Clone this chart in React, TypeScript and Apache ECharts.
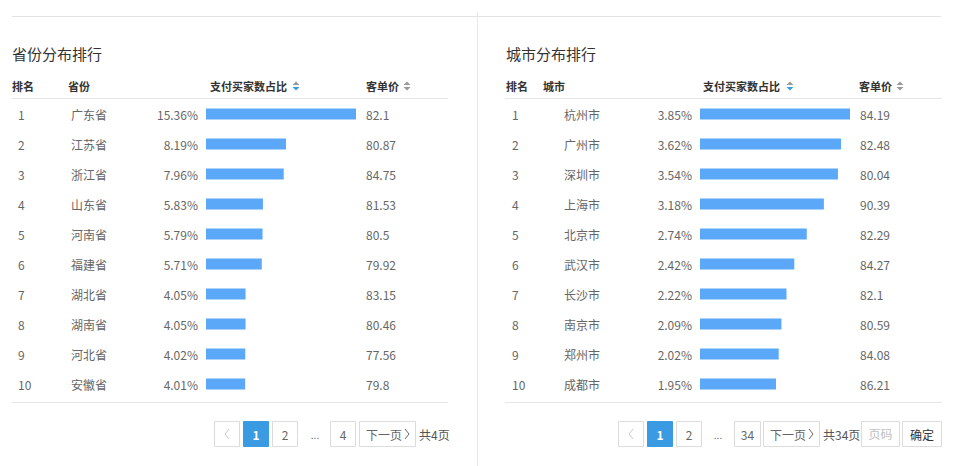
import React, { useEffect, useRef } from "react";
import * as echarts from "echarts";

const ranks = ["1", "2", "3", "4", "5", "6", "7", "8", "9", "10"];
const provinces = ["广东省", "江苏省", "浙江省", "山东省", "河南省", "福建省", "湖北省", "湖南省", "河北省", "安徽省"];
const provShare = [15.36, 8.19, 7.96, 5.83, 5.79, 5.71, 4.05, 4.05, 4.02, 4.01];
const provPrice = ["82.1", "80.87", "84.75", "81.53", "80.5", "79.92", "83.15", "80.46", "77.56", "79.8"];
const cities = ["杭州市", "广州市", "深圳市", "上海市", "北京市", "武汉市", "长沙市", "南京市", "郑州市", "成都市"];
const cityShare = [3.85, 3.62, 3.54, 3.18, 2.74, 2.42, 2.22, 2.09, 2.02, 1.95];
const cityPrice = ["84.19", "82.48", "80.04", "90.39", "82.29", "84.27", "82.1", "80.59", "84.08", "86.21"];

const FONT = '"Noto Sans CJK SC", "Noto Sans", sans-serif';
const BAR = "#5aa8f7";
const BLUE = "#3a9be2";
const LINE = "#e6e6e6";

function txt(x: number, y: number, text: string, opts: any = {}) {
  return {
    type: "text",
    x,
    y,
    silent: true,
    style: {
      text,
      fill: opts.fill || "#666",
      fontSize: opts.fontSize || 12,
      fontWeight: opts.fontWeight || "normal",
      fontFamily: FONT,
      textAlign: opts.align || "left",
      textVerticalAlign: "middle",
    },
  };
}
function head(x: number, text: string) {
  return txt(x, 86, text, { fontWeight: "bold", fill: "#333", fontSize: 11 });
}
function hline(x1: number, x2: number, y: number, color = LINE) {
  return { type: "line", silent: true, shape: { x1, y1: y, x2, y2: y }, style: { stroke: color, lineWidth: 1 } };
}
function box(x1: number, x2: number, fill = "#fff", stroke = "#dcdcdc") {
  return {
    type: "rect",
    silent: true,
    shape: { x: x1 + 0.5, y: 421.5, width: x2 - x1 - 1, height: 25 },
    style: { fill, stroke, lineWidth: 1 },
  };
}
function sortIcon(x: number, y: number, activeDown: boolean) {
  return [
    { type: "polygon", silent: true, shape: { points: [[x - 3.5, y - 1], [x + 3.5, y - 1], [x, y - 4.5]] }, style: { fill: "#999" } },
    { type: "polygon", silent: true, shape: { points: [[x - 3.5, y + 1], [x + 3.5, y + 1], [x, y + 4.5]] }, style: { fill: activeDown ? BLUE : "#999" } },
  ];
}
function chevron(x: number, y: number, dir: number, color: string) {
  return {
    type: "polyline",
    silent: true,
    shape: { points: [[x, y - 5], [x + 4 * dir, y], [x, y + 5]] },
    style: { stroke: color, lineWidth: 1, fill: null },
  };
}

function yAxes(grid: number, names: string[], share: number[], price: string[], rankMargin: number, nameMargin: number) {
  const base = {
    gridIndex: grid,
    type: "category",
    inverse: true,
    data: ranks,
    axisLine: { show: false },
    axisTick: { show: false },
    splitLine: { show: false },
  };
  const lab = { fontSize: 12, color: "#666", fontFamily: FONT };
  return [
    { ...base, position: "left", axisLabel: { ...lab, margin: rankMargin, align: "left" } },
    { ...base, position: "left", axisLabel: { ...lab, margin: nameMargin, align: "left", formatter: (_v: string, i: number) => names[i] } },
    { ...base, position: "left", axisLabel: { ...lab, margin: 8, align: "right", formatter: (_v: string, i: number) => share[i].toFixed(2) + "%" } },
    { ...base, position: "right", axisLabel: { ...lab, margin: 10, align: "left", formatter: (_v: string, i: number) => price[i] } },
  ];
}

export default function App() {
  const ref = useRef<HTMLDivElement>(null);
  useEffect(() => {
    document.body.style.margin = "0";
    const chart = echarts.init(ref.current!, null, { renderer: "svg" });
    const graphic: any[] = [
      hline(12, 941, 16.5, "#e3e3e3"),
      { type: "line", silent: true, shape: { x1: 477.5, y1: 12, x2: 477.5, y2: 466 }, style: { stroke: "#e8e8e8", lineWidth: 1 } },
      // left panel
      txt(12, 53, "省份分布排行", { fontSize: 15, fill: "#333" }),
      head(12, "排名"),
      head(68, "省份"),
      head(210, "支付买家数占比"),
      ...sortIcon(296, 86, true),
      head(366, "客单价"),
      ...sortIcon(407, 86, false),
      hline(12, 448, 98.5),
      hline(12, 448, 402.5),
      box(214, 240),
      chevron(229, 434, -1, "#c8c8c8"),
      box(243, 269, BLUE, BLUE),
      txt(256, 434, "1", { fill: "#fff", fontWeight: "bold", align: "center" }),
      box(272, 298),
      txt(285, 434, "2", { align: "center" }),
      txt(315, 434, "...", { align: "center", fontSize: 10 }),
      box(330, 356),
      txt(343, 434, "4", { align: "center" }),
      box(359, 416),
      txt(366, 434, "下一页", {}),
      chevron(405, 434, 1, "#666"),
      txt(419, 434, "共4页", { fill: "#555" }),
      // right panel
      txt(506, 53, "城市分布排行", { fontSize: 15, fill: "#333" }),
      head(506, "排名"),
      head(543, "城市"),
      head(703, "支付买家数占比"),
      ...sortIcon(790, 86, true),
      head(859, "客单价"),
      ...sortIcon(900, 86, false),
      hline(505, 942, 98.5),
      hline(505, 942, 402.5),
      box(618, 644),
      chevron(633, 434, -1, "#c8c8c8"),
      box(647, 673, BLUE, BLUE),
      txt(660, 434, "1", { fill: "#fff", fontWeight: "bold", align: "center" }),
      box(676, 702),
      txt(689, 434, "2", { align: "center" }),
      txt(718, 434, "...", { align: "center", fontSize: 10 }),
      box(734, 761),
      txt(747.5, 434, "34", { align: "center" }),
      box(763, 820),
      txt(770, 434, "下一页", {}),
      chevron(809, 434, 1, "#666"),
      txt(823, 434, "共34页", { fill: "#555" }),
      box(861, 900),
      txt(880.5, 433, "页码", { align: "center", fill: "#c0c0c0" }),
      box(902, 942),
      txt(922, 434, "确定", { align: "center", fill: "#333" }),
    ];

    chart.setOption({
      animation: false,
      textStyle: { fontFamily: FONT },
      grid: [
        { left: 206, top: 99, width: 150, height: 300 },
        { left: 700, top: 99, width: 150, height: 300 },
      ],
      xAxis: [
        { gridIndex: 0, type: "value", min: 0, max: Math.max(...provShare), show: false },
        { gridIndex: 1, type: "value", min: 0, max: Math.max(...cityShare), show: false },
      ],
      yAxis: [
        ...yAxes(0, provinces, provShare, provPrice, 188, 135),
        ...yAxes(1, cities, cityShare, cityPrice, 188, 136),
      ],
      series: [
        { type: "bar", xAxisIndex: 0, yAxisIndex: 0, data: provShare, barWidth: 11, itemStyle: { color: BAR }, silent: true },
        { type: "bar", xAxisIndex: 1, yAxisIndex: 4, data: cityShare, barWidth: 11, itemStyle: { color: BAR }, silent: true },
      ],
      graphic,
    });
    return () => chart.dispose();
  }, []);
  return <div ref={ref} style={{ width: 961, height: 466 }} />;
}
